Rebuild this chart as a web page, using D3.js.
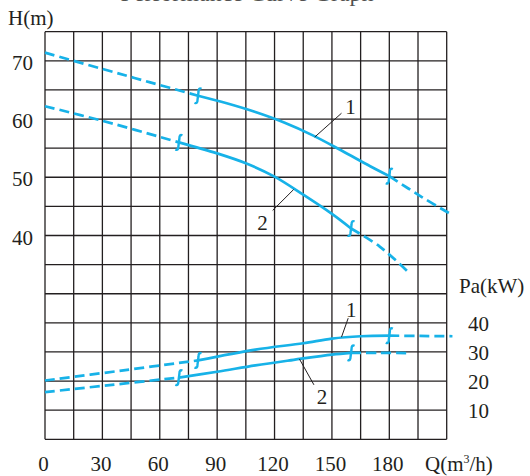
<!DOCTYPE html>
<html>
<head>
<meta charset="utf-8">
<script src="https://cdn.jsdelivr.net/npm/d3@7"></script>
<style>
  body { margin: 0; background: #fff; }
  svg text { font-family: "Liberation Serif", "DejaVu Serif", serif; fill: #231f20; }
</style>
</head>
<body>
<svg id="chart" width="530" height="476"></svg>
<script>
// ticks
var qTicks = [0, 30, 60, 90, 120, 150, 180];
var hTicks = [70, 60, 50, 40];
var paTicks = [40, 30, 20, 10];

// head curves H(Q)
var head1Q = [0, 30, 55, 80, 95, 110, 125, 140, 155, 170, 180, 197, 213];
var head1H = [71.4, 68.6, 66.3, 64.0, 62.7, 61.2, 59.4, 57.2, 54.6, 51.9, 50.2, 46.6, 43.5];
var head1Solid = [80, 180];

var head2Q = [0, 30, 70, 90, 105, 120, 135, 150, 160, 175, 190];
var head2H = [62.2, 59.7, 56.0, 54.1, 52.4, 50.1, 47.0, 43.7, 41.2, 38.1, 33.7];
var head2Solid = [70, 160];

// shaft power curves Pa(Q)
var pow1Q = [0, 40, 80, 110, 135, 150, 165, 180, 196, 213];
var pow1P = [20.2, 23.6, 27.1, 30.8, 33.0, 34.6, 35.4, 35.6, 35.5, 35.4];
var pow1Solid = [80, 180];

var pow2Q = [0, 35, 70, 90, 110, 130, 150, 160, 175, 191];
var pow2P = [16.2, 18.7, 21.2, 23.2, 25.4, 27.3, 29.1, 29.7, 29.7, 29.6];
var pow2Solid = [70, 160];

// leader labels [text, q0, v0, q1, v1, textQ, textV]
var headLabels = [["1", 141, 56.9, 155, 61.0, 157, 60.8], ["2", 130, 47.9, 119, 44.3, 111, 40.9]];
var powLabels = [["1", 155, 35.1, 158.5, 41.6, 157.3, 42.0], ["2", 133, 27.6, 140.6, 18.7, 142, 12.1]];

var blue = "#17b2e8";
var ink = "#231f20";

var svg = d3.select("#chart");

var x = d3.scaleLinear().domain([0, 210]).range([45, 446.7]);
var yH = d3.scaleLinear().domain([5, 75]).range([439.3, 31.7]);
var yP = d3.scaleLinear().domain([0, 140]).range([439.3, 31.7]);

/* grid */
var grid = svg.append("g").attr("stroke", ink).attr("stroke-width", 1.3);
grid.selectAll("line.v").data(d3.range(0, 211, 15)).enter().append("line")
  .attr("x1", d => x(d)).attr("x2", d => x(d))
  .attr("y1", yH(75)).attr("y2", yH(5));
grid.selectAll("line.h").data(d3.range(5, 76, 5)).enter().append("line")
  .attr("y1", d => yH(d)).attr("y2", d => yH(d))
  .attr("x1", x(0)).attr("x2", x(210));

/* tick labels */
svg.append("g").selectAll("text").data(qTicks).enter().append("text")
  .attr("x", d => x(d) - 1.5).attr("y", 471)
  .attr("text-anchor", "middle").attr("font-size", 21)
  .text(d => d);
svg.append("g").selectAll("text").data(hTicks).enter().append("text")
  .attr("x", 33).attr("y", d => yH(d) + 9)
  .attr("text-anchor", "end").attr("font-size", 21)
  .text(d => d);
svg.append("g").selectAll("text").data(paTicks).enter().append("text")
  .attr("x", 489).attr("y", d => yP(d) + 8)
  .attr("text-anchor", "end").attr("font-size", 21)
  .text(d => d);

svg.append("text").attr("x", 8).attr("y", 25).attr("font-size", 21).text("H(m)");
svg.append("text").attr("x", 459).attr("y", 293).attr("font-size", 21).text("Pa(kW)");
var ql = svg.append("text").attr("x", 425).attr("y", 471).attr("font-size", 21);
ql.append("tspan").text("Q(m");
ql.append("tspan").attr("font-size", 12).attr("dy", -8).text("3");
ql.append("tspan").attr("dy", 8).text("/h)");

// title, cut off at the top edge in the original
svg.append("text").attr("x", 247).attr("y", 1).attr("text-anchor", "middle")
  .attr("font-size", 24).attr("fill-opacity", 0.8).text("Performance Curve Graph");

/* curves */
var line = d3.line().curve(d3.curveCatmullRom.alpha(0.5));

function drawCurve(qs, vs, ys, solid) {
  var pts = qs.map((q, i) => [q, vs[i]]);
  var parts = [
    { a: qs[0], b: solid[0], dash: "10,5" },
    { a: solid[0], b: solid[1], dash: null },
    { a: solid[1], b: qs[qs.length - 1], dash: "10,5" }
  ];
  parts.forEach(function(p) {
    var seg = pts.filter(d => d[0] >= p.a && d[0] <= p.b).map(d => [x(d[0]), ys(d[1])]);
    svg.append("path")
      .attr("d", line(seg))
      .attr("fill", "none")
      .attr("stroke", blue)
      .attr("stroke-width", 2.7)
      .attr("stroke-dasharray", p.dash);
  });
  // break marks
  var ip = d3.scaleLinear().domain(qs).range(vs);
  solid.forEach(function(q) {
    svg.append("path")
      .attr("transform", "translate(" + x(q) + "," + ys(ip(q)) + ")")
      .attr("d", "M3.5,-7 Q0.5,-8.5 0.5,-4 L-0.5,4 Q-0.5,8.5 -3.5,7")
      .attr("fill", "none")
      .attr("stroke", blue)
      .attr("stroke-width", 2.4);
  });
}

drawCurve(head1Q, head1H, yH, head1Solid);
drawCurve(head2Q, head2H, yH, head2Solid);
drawCurve(pow1Q, pow1P, yP, pow1Solid);
drawCurve(pow2Q, pow2P, yP, pow2Solid);

/* leader labels */
function drawLabels(list, ys) {
  list.forEach(function(l) {
    svg.append("line")
      .attr("x1", x(l[1])).attr("y1", ys(l[2]))
      .attr("x2", x(l[3])).attr("y2", ys(l[4]))
      .attr("stroke", ink).attr("stroke-width", 1);
    svg.append("text")
      .attr("x", x(l[5])).attr("y", ys(l[6]))
      .attr("font-size", 21)
      .text(l[0]);
  });
}
drawLabels(headLabels, yH);
drawLabels(powLabels, yP);
</script>
</body>
</html>
